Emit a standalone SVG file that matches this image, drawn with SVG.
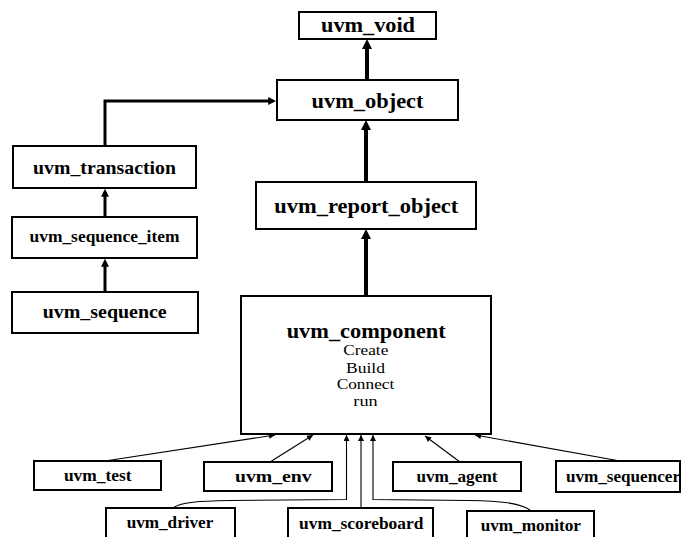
<svg xmlns="http://www.w3.org/2000/svg" width="681" height="537" viewBox="0 0 681 537">
<style>
.box{fill:#fff;stroke:#000;stroke-width:2}
.lb{font-family:"Liberation Serif","Times New Roman",serif;font-weight:bold;text-anchor:middle;fill:#000}
.lr{font-family:"Liberation Serif","Times New Roman",serif;text-anchor:middle;fill:#000}
.thick{fill:none;stroke:#000;stroke-width:4}
.mid{fill:none;stroke:#000;stroke-width:3}
.thin{fill:none;stroke:#000;stroke-width:1.1}
</style>
<defs>
<marker id="ahT" viewBox="0 0 10 10" refX="6" refY="5" markerUnits="userSpaceOnUse" markerWidth="10" markerHeight="10" orient="auto"><path d="M0,0 L10,5 L0,10 z" fill="#000"/></marker>
<marker id="ahM" viewBox="0 0 10 10" refX="6" refY="5" markerUnits="userSpaceOnUse" markerWidth="8" markerHeight="8" orient="auto"><path d="M0,0 L10,5 L0,10 z" fill="#000"/></marker>
<marker id="ahS" viewBox="0 0 10 10" refX="10" refY="5" markerUnits="userSpaceOnUse" markerWidth="7" markerHeight="6" orient="auto"><path d="M0,0 L10,5 L0,10 z" fill="#000"/></marker>
</defs>
<g id="connectors">
<path class="thick" d="M367,80 L367,43" marker-end="url(#ahT)"/>
<path class="thick" d="M366,182 L366,124" marker-end="url(#ahT)"/>
<path class="thick" d="M366,296 L366,233" marker-end="url(#ahT)"/>
<path class="mid" d="M105,146 L105,101 L273,101" marker-end="url(#ahM)"/>
<path class="mid" d="M105,217 L105,192" marker-end="url(#ahM)"/>
<path class="mid" d="M105,292 L105,262" marker-end="url(#ahM)"/>
<path class="thin" d="M105,461 L275,435" marker-end="url(#ahS)"/>
<path class="thin" d="M270,462 L313,435" marker-end="url(#ahS)"/>
<path class="thin" d="M173,508 C180,502 200,501 230,500.5 L346.5,499.5 L346.5,435" marker-end="url(#ahS)"/>
<path class="thin" d="M361,508 L361,435" marker-end="url(#ahS)"/>
<path class="thin" d="M530,510 C520,503 500,501 470,500.5 L373,499.5 L373,435" marker-end="url(#ahS)"/>
<path class="thin" d="M460,462 L425,436" marker-end="url(#ahS)"/>
<path class="thin" d="M620,461 L475,435" marker-end="url(#ahS)"/>
</g>
<g id="uvm_void"><rect class="box" x="299" y="12" width="137" height="27"/><text class="lb" x="368" y="31.5" font-size="20" textLength="94" lengthAdjust="spacingAndGlyphs">uvm_void</text></g>
<g id="uvm_object"><rect class="box" x="277" y="80" width="181" height="40"/><text class="lb" x="367.5" y="107.5" font-size="21" textLength="112" lengthAdjust="spacingAndGlyphs">uvm_object</text></g>
<g id="uvm_transaction"><rect class="box" x="13" y="146" width="183" height="42"/><text class="lb" x="104.5" y="174" font-size="19" textLength="143" lengthAdjust="spacingAndGlyphs">uvm_transaction</text></g>
<g id="uvm_sequence_item"><rect class="box" x="12" y="217" width="185" height="41"/><text class="lb" x="104.5" y="242.3" font-size="16" textLength="150" lengthAdjust="spacingAndGlyphs">uvm_sequence_item</text></g>
<g id="uvm_sequence"><rect class="box" x="12" y="292" width="186" height="41"/><text class="lb" x="104.7" y="318.3" font-size="18" textLength="124" lengthAdjust="spacingAndGlyphs">uvm_sequence</text></g>
<g id="uvm_report_object"><rect class="box" x="256" y="182" width="220" height="47"/><text class="lb" x="366.3" y="212.7" font-size="21" textLength="184" lengthAdjust="spacingAndGlyphs">uvm_report_object</text></g>
<g id="uvm_component"><rect class="box" x="241" y="296" width="250" height="138"/>
<text class="lb" x="366.2" y="337.7" font-size="22" textLength="159" lengthAdjust="spacingAndGlyphs">uvm_component</text>
<text class="lr" x="365.8" y="355" font-size="15" textLength="45" lengthAdjust="spacingAndGlyphs">Create</text>
<text class="lr" x="365.5" y="372.7" font-size="15" textLength="39" lengthAdjust="spacingAndGlyphs">Build</text>
<text class="lr" x="365.5" y="389.3" font-size="15" textLength="57.6" lengthAdjust="spacingAndGlyphs">Connect</text>
<text class="lr" x="365.5" y="406" font-size="15" textLength="24.3" lengthAdjust="spacingAndGlyphs">run</text></g>
<g id="uvm_test"><rect class="box" x="34" y="461" width="127" height="29"/><text class="lb" x="97.8" y="481" font-size="17" textLength="67.7" lengthAdjust="spacingAndGlyphs">uvm_test</text></g>
<g id="uvm_env"><rect class="box" x="204" y="462" width="128" height="29"/><text class="lb" x="273.3" y="481.7" font-size="17" textLength="76.7" lengthAdjust="spacingAndGlyphs">uvm_env</text></g>
<g id="uvm_agent"><rect class="box" x="393" y="462" width="128" height="29"/><text class="lb" x="457" y="481.7" font-size="17" textLength="81" lengthAdjust="spacingAndGlyphs">uvm_agent</text></g>
<g id="uvm_sequencer"><rect class="box" x="556" y="461" width="124" height="31"/><text class="lb" x="623" y="481.7" font-size="17" textLength="114" lengthAdjust="spacingAndGlyphs">uvm_sequencer</text></g>
<g id="uvm_driver"><rect class="box" x="106" y="508" width="129" height="36"/><text class="lb" x="170" y="528.3" font-size="17" textLength="86.7" lengthAdjust="spacingAndGlyphs">uvm_driver</text></g>
<g id="uvm_scoreboard"><rect class="box" x="288" y="508" width="145" height="36"/><text class="lb" x="361.2" y="529" font-size="17" textLength="124.3" lengthAdjust="spacingAndGlyphs">uvm_scoreboard</text></g>
<g id="uvm_monitor"><rect class="box" x="467" y="511" width="127" height="36"/><text class="lb" x="530.8" y="531" font-size="17" textLength="100.3" lengthAdjust="spacingAndGlyphs">uvm_monitor</text></g>
</svg>
